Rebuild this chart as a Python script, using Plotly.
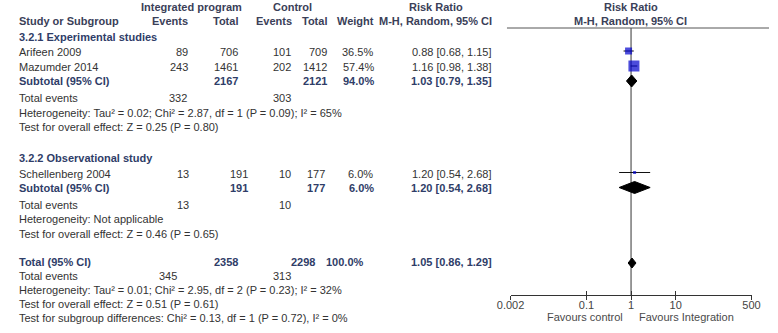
import math
import plotly.graph_objects as go

W, H = 778, 333

# ---------------- data ----------------
study_names = ["Arifeen 2009", "Mazumder 2014", "Schellenberg 2004"]
int_events = [89, 243, 13]
int_total = [706, 1461, 191]
ctl_events = [101, 202, 10]
ctl_total = [709, 1412, 177]
weight_pct = [36.5, 57.4, 6.0]
rr_est = [0.88, 1.16, 1.20]
rr_low = [0.68, 0.98, 0.54]
rr_high = [1.15, 1.38, 2.68]

group_titles = ["3.2.1 Experimental studies", "3.2.2 Observational study"]
pooled_labels = ["Subtotal (95% CI)", "Subtotal (95% CI)", "Total (95% CI)"]
pooled_int_total = [2167, 191, 2358]
pooled_ctl_total = [2121, 177, 2298]
pooled_weight = [94.0, 6.0, 100.0]
pooled_est = [1.03, 1.20, 1.05]
pooled_low = [0.79, 0.54, 0.86]
pooled_high = [1.35, 2.68, 1.29]
pooled_int_events = [332, 13, 345]
pooled_ctl_events = [303, 10, 313]
heterogeneity = [
    "Heterogeneity: Tau² = 0.02; Chi² = 2.87, df = 1 (P = 0.09); I² = 65%",
    "Heterogeneity: Not applicable",
    "Heterogeneity: Tau² = 0.01; Chi² = 2.95, df = 2 (P = 0.23); I² = 32%",
]
overall_effect = [
    "Test for overall effect: Z = 0.25 (P = 0.80)",
    "Test for overall effect: Z = 0.46 (P = 0.65)",
    "Test for overall effect: Z = 0.51 (P = 0.61)",
]
subgroup_test = "Test for subgroup differences: Chi² = 0.13, df = 1 (P = 0.72), I² = 0%"
tick_vals = [0.002, 0.1, 1, 10, 500]
tick_text = ["0.002", "0.1", "1", "10", "500"]
favours = ["Favours control", "Favours Integration"]

# ---------------- layout (pixel positions / styles) ----------------
FONT = "Liberation Sans, Arial, sans-serif"
FS = 11
TXT = "#333333"
HDR = "#3a4058"
BLUE_T = "#2f3d68"

study_y = [52, 67, 174]
study_my = [51, 66, 172.5]
study_cols = [(181, 233, 288, 325, 372, 495),
              (181, 233, 288, 325, 373, 495),
              (182, 243, 288, 323, 372, 495)]
marker_sizes = [7, 11, 3]
group_y = [37, 158]
pooled_y = [81, 188, 262]
pooled_dy = [81, 187.5, 263]
pooled_half_h = [6, 6, 5]
pooled_cols = [(233, 325, 373, 495), (243, 323, 373, 495), (233, 312, 363, 495)]
events_y = [98, 205, 276]
events_cols = [(180, 288), (182, 288), (170, 288)]
het_y = [113, 219, 290]
overall_y = [127, 234, 304]
subgroup_y = 318

X_LEFT, X_RIGHT, AXIS_Y, HEADER_LINE_Y = 511.7, 760.0, 295, 28

fig = go.Figure()
ann = []


def add(text, px, py, anchor="left", bold=False, color=TXT, size=FS):
    if bold:
        text = "<b>" + text + "</b>"
    ann.append(dict(text=text, x=px / W, y=py, xref="paper", yref="y",
                    xanchor=anchor, yanchor="middle", showarrow=False,
                    font=dict(family=FONT, size=size, color=color)))


# headers
add("Integrated program", 183, 7, "center", True, HDR)
add("Control", 287, 7, "center", True, HDR)
add("Risk Ratio", 435, 7, "center", True, HDR)
add("Risk Ratio", 636, 7, "center", True, HDR)
add("Study or Subgroup", 3, 21, "left", True, HDR)
add("Events", 181, 21, "right", True, HDR)
add("Total", 233, 21, "right", True, HDR)
add("Events", 289, 21, "right", True, HDR)
add("Total", 325, 21, "right", True, HDR)
add("Weight", 373, 21, "right", True, HDR)
add("M-H, Random, 95% CI", 495, 21, "right", True, HDR)
add("M-H, Random, 95% CI", 635, 21, "center", True, HDR)

for g, t in enumerate(group_titles):
    add(t, 3, group_y[g], "left", True, BLUE_T)

for i, name in enumerate(study_names):
    c = study_cols[i]
    y = study_y[i]
    add(name, 3, y)
    add(str(int_events[i]), c[0], y, "right")
    add(str(int_total[i]), c[1], y, "right")
    add(str(ctl_events[i]), c[2], y, "right")
    add(str(ctl_total[i]), c[3], y, "right")
    add(f"{weight_pct[i]:.1f}%", c[4], y, "right")
    add(f"{rr_est[i]:.2f} [{rr_low[i]:.2f}, {rr_high[i]:.2f}]", c[5], y, "right")

for k, lab in enumerate(pooled_labels):
    c = pooled_cols[k]
    y = pooled_y[k]
    add(lab, 3, y, "left", True, BLUE_T)
    add(str(pooled_int_total[k]), c[0], y, "right", True, BLUE_T)
    add(str(pooled_ctl_total[k]), c[1], y, "right", True, BLUE_T)
    add(f"{pooled_weight[k]:.1f}%", c[2], y, "right", True, BLUE_T)
    add(f"{pooled_est[k]:.2f} [{pooled_low[k]:.2f}, {pooled_high[k]:.2f}]", c[3], y, "right", True, BLUE_T)
    ec = events_cols[k]
    add("Total events", 3, events_y[k])
    add(str(pooled_int_events[k]), ec[0], events_y[k], "right")
    add(str(pooled_ctl_events[k]), ec[1], events_y[k], "right")
    add(heterogeneity[k], 3, het_y[k])
    add(overall_effect[k], 3, overall_y[k])
add(subgroup_test, 3, subgroup_y)

add(favours[0], 630, 317, "right", False, "#4a4a4a")
add(favours[1], 642, 317, "left", False, "#4a4a4a")

# header line
fig.add_shape(type="line", xref="paper", yref="y", x0=508 / W, x1=1.0,
              y0=HEADER_LINE_Y, y1=HEADER_LINE_Y, line=dict(color="#555555", width=1))

# line of no effect
fig.add_trace(go.Scatter(x=[1, 1], y=[HEADER_LINE_Y, AXIS_Y], mode="lines",
                         line=dict(color="#6e6e6e", width=1.4), hoverinfo="skip"))

# CI lines
cx, cy = [], []
for i in range(len(study_names)):
    cx += [rr_low[i], rr_high[i], None]
    cy += [study_my[i], study_my[i], None]
fig.add_trace(go.Scatter(x=cx, y=cy, mode="lines", line=dict(color="#111111", width=1),
                         hoverinfo="skip"))

# study squares
fig.add_trace(go.Scatter(x=rr_est, y=study_my, mode="markers",
                         marker=dict(symbol="square", size=marker_sizes, color="#0000cc",
                                     line=dict(width=0)),
                         hoverinfo="skip"))

# diamonds
for k in range(len(pooled_est)):
    y = pooled_dy[k]
    h = pooled_half_h[k]
    fig.add_trace(go.Scatter(
        x=[pooled_low[k], pooled_est[k], pooled_high[k], pooled_est[k], pooled_low[k]],
        y=[y, y - h, y, y + h, y], mode="lines", fill="toself",
        fillcolor="#000000", line=dict(color="#000000", width=1), hoverinfo="skip"))

# invisible trace for the overlay axis
fig.add_trace(go.Scatter(x=[1], y=[AXIS_Y], xaxis="x2", mode="markers",
                         marker=dict(opacity=0), hoverinfo="skip"))

xr = [math.log10(tick_vals[0]), math.log10(tick_vals[-1])]
dom = [X_LEFT / W, X_RIGHT / W]
pos = (H - AXIS_Y) / H

fig.update_layout(
    width=W, height=H, margin=dict(l=0, r=0, t=0, b=0),
    paper_bgcolor="white", plot_bgcolor="white", showlegend=False,
    annotations=ann,
    xaxis=dict(type="log", range=xr, domain=dom, anchor="free", position=pos,
               showline=True, linecolor="#333333", linewidth=1,
               ticks="inside", ticklen=4, tickcolor="#333333", tickwidth=1,
               tickvals=tick_vals, ticktext=tick_text,
               tickfont=dict(family=FONT, size=FS, color="#444444"),
               showgrid=False, zeroline=False, fixedrange=True),
    xaxis2=dict(type="log", range=xr, domain=dom, anchor="free", position=pos,
                overlaying="x", showline=False, ticks="outside", ticklen=4,
                tickcolor="#333333", tickwidth=1, tickvals=tick_vals,
                showticklabels=False, showgrid=False, zeroline=False, fixedrange=True),
    yaxis=dict(range=[H, 0], domain=[0, 1], visible=False, fixedrange=True),
)

fig.write_html(
    "out.html",
    config={"displayModeBar": False, "staticPlot": True},
    post_script="document.body.style.margin='0';document.body.style.overflow='hidden';",
)
